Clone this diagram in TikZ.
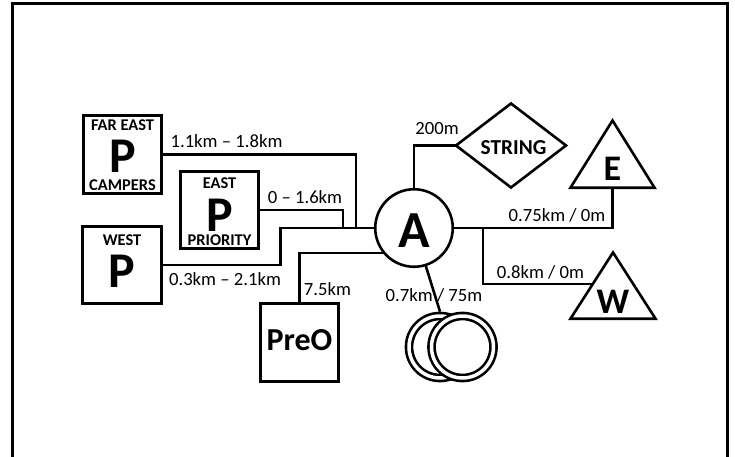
\documentclass[tikz,border=0pt]{standalone}
\usepackage{fontspec}
\setmainfont{Carlito}
\usetikzlibrary{shapes.geometric,calc}
\begin{document}
\begin{tikzpicture}[x=1pt,y=-1pt,
  lw/.style={line width=2.6pt},
  conn/.style={lw, line join=miter},
  pbox/.style={draw, lw, minimum width=78.5pt, minimum height=77.5pt, inner sep=0pt, outer sep=0pt},
  ring/.style={circle, draw, lw, double=white, double distance=3.5pt, fill=white, minimum size=62pt, inner sep=0pt, outer sep=4.35pt},
  txt/.style={anchor=base, inner sep=0pt, outer sep=0pt},
  dist/.style={txt, font=\fontsize{18.67}{22}\selectfont},
  small/.style={txt, font=\bfseries\fontsize{16.4}{19}\selectfont},
  bigp/.style={txt, font=\bfseries\fontsize{50}{54}\selectfont},
  tri/.style={lw, line join=miter},
]
\useasboundingbox (0,0) rectangle (735,457);
\draw[lw, line join=miter] (12.5,457) -- (12.5,3.8) -- (727.5,3.8) -- (727.5,457);

% boxes
\node[pbox] (FE) at (122.5,154.5) {};
\node[pbox] (EP) at (219.5,210) {};
\node[pbox] (WP) at (122,265) {};
\node[pbox] (PO) at (299.5,342.5) {};
\node[circle, draw, lw, minimum size=77.5pt, inner sep=0pt, outer sep=0pt] (A) at (414,228) {};
\node[diamond, draw, lw, line join=miter, aspect=1.3, minimum width=110pt, minimum height=84pt, inner sep=0pt, outer sep=0pt] (S) at (511,145.5) {};

% triangles
\coordinate (Ea) at (612.5,120.5);
\coordinate (Ebl) at (570.5,187.7);
\coordinate (Ebr) at (654.5,187.7);
\coordinate (Eb) at (612.5,187.7);
\draw[tri] (Ea) -- (Ebl) -- (Ebr) -- cycle;
\coordinate (Wa) at (613,252.5);
\coordinate (Wbl) at (570.5,318.7);
\coordinate (Wbr) at (655.5,318.7);
\coordinate (Wl) at ($(Wa)!0.476!(Wbl)$);
\draw[tri] (Wa) -- (Wbl) -- (Wbr) -- cycle;

% rings
\node[ring] (RL) at (440,347) {};
\node[ring] (RR) at (462.5,347) {};

% junctions
\coordinate (j1) at (356,228);
\coordinate (j2) at (343,228);
\coordinate (j3) at (280.5,228);
\coordinate (J) at (483,228);

% connectors
\draw[conn] (FE) -| (j1);
\draw[conn] (EP) -| (j2);
\draw[conn] (WP) -| (j3) -- (A);
\draw[conn] (PO) |- (A.220);
\draw[conn] (A) |- (S);
\draw[conn] (A) -| (Eb);
\draw[conn] (J) |- (Wl);
\draw[conn] (A) -- (RL.north);

% labels
\node[dist] (l1) at (226.5,147) {1.1km – 1.8km};
\node[dist] (l2) at (305,203) {0 – 1.6km};
\node[dist] (l3) at (225,285) {0.3km – 2.1km};
\node[dist] (l4) at (327.5,295) {7.5km};
\node[dist] (l5) at (437,135) {200m};
\node[dist] (l6) at (557,221) {0.75km / 0m};
\node[dist] (l7) at (540.5,278) {0.8km / 0m};
\node[dist] (l8) at (434,301) {0.7km / 75m};

% box texts
\node[small] (t1) at (122.5,131) {FAR EAST};
\node[bigp] (p1) at (122.5,172.5) {P};
\node[small] (t2) at (122.5,190.5) {CAMPERS};
\node[small] (t3) at (219.5,188.5) {EAST};
\node[bigp] (p2) at (219.5,231) {P};
\node[small] (t4) at (219.5,245.5) {PRIORITY};
\node[small] (t5) at (122,245) {WEST};
\node[bigp] (p3) at (122,287) {P};
\node[txt, font=\bfseries\fontsize{32}{36}\selectfont] (t6) at (299.5,350) {PreO};
\node[txt, font=\bfseries\fontsize{21.3}{25}\selectfont] (t7) at (513.5,154) {STRING};
\node[txt, font=\bfseries\fontsize{36}{40}\selectfont] (t8) at (612.5,180) {E};
\node[txt, font=\bfseries\fontsize{36}{40}\selectfont] (t9) at (613,313) {W};
\node[txt, font=\bfseries\fontsize{52}{56}\selectfont] (t10) at (414,247) {A};
\end{tikzpicture}
\end{document}
